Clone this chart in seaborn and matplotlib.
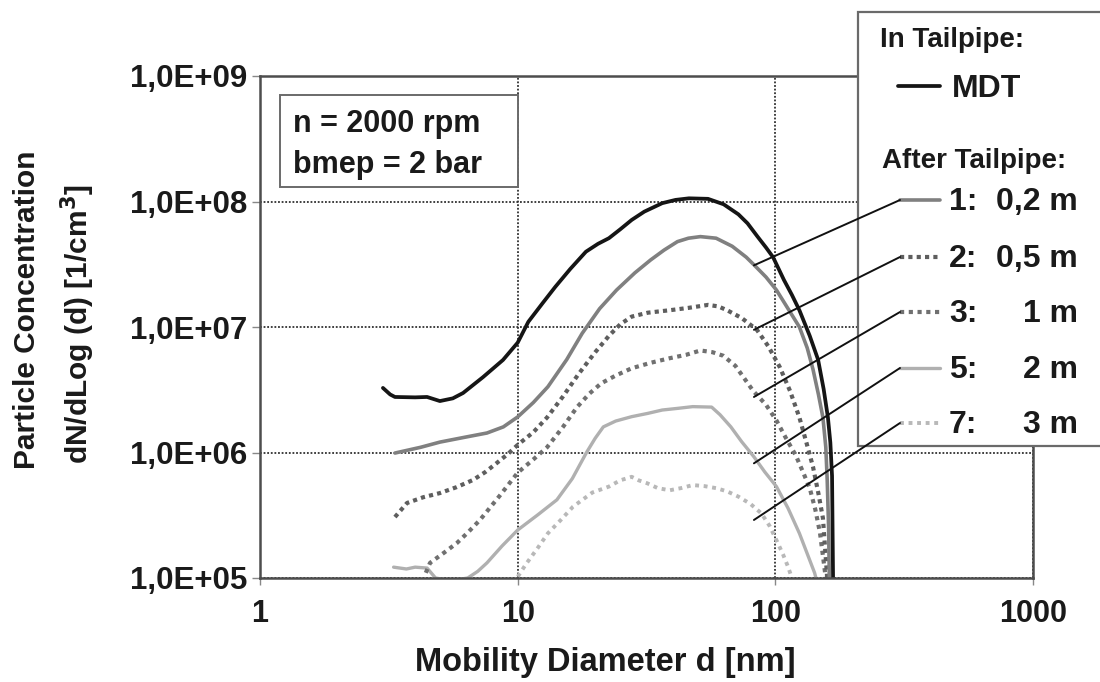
import matplotlib
matplotlib.use("Agg")
import matplotlib.pyplot as plt
import matplotlib.ticker as mticker
from matplotlib.lines import Line2D
from matplotlib.patches import Rectangle, ConnectionPatch
import seaborn as sns

# ── Data ──────────────────────────────────────────────────────────────────────
MDT_X = [3.0, 3.2, 3.34, 4.0, 4.45, 4.99, 5.6, 6.14, 7.33, 8.77, 10.0, 11.0,
         12.5, 14.0, 16.0, 18.4, 20.5, 22.6, 25.0, 27.7, 31.0, 36.4, 41.0,
         46.2, 54.8, 63, 71.9, 78, 85.3, 92, 98, 108, 116, 124, 136, 146.5,
         154, 160, 163.5, 166, 167.5]
MDT_Y = [3.27e6, 2.9e6, 2.77e6, 2.75e6, 2.77e6, 2.57e6, 2.7e6, 2.98e6, 3.98e6,
         5.46e6, 7.5e6, 1.1e7, 1.55e7, 2.09e7, 2.9e7, 3.98e7, 4.6e7, 5.1e7,
         6.0e7, 7.13e7, 8.3e7, 9.7e7, 1.03e8, 1.06e8, 1.05e8, 9.5e7, 7.9e7,
         6.7e7, 5.25e7, 4.3e7, 3.6e7, 2.37e7, 1.8e7, 1.36e7, 8.5e6, 5.5e6,
         3.2e6, 1.9e6, 1.2e6, 6.5e5, 1e5]

D1_X = [3.34, 4.2, 4.99, 6.2, 7.6, 8.8, 10, 11.5, 13.1, 15.5, 17.8, 20.8, 24.2,
        28.5, 32.8, 37, 41.7, 46, 51.2, 58.9, 68, 77.1, 83, 92, 101, 112, 124,
        133, 140, 147, 153, 157, 159, 161, 162]
D1_Y = [9.9e5, 1.1e6, 1.21e6, 1.32e6, 1.43e6, 1.6e6, 1.92e6, 2.5e6, 3.34e6,
        5.5e6, 8.9e6, 1.4e7, 1.97e7, 2.7e7, 3.42e7, 4.1e7, 4.79e7, 5.1e7,
        5.25e7, 5.1e7, 4.4e7, 3.6e7, 3.1e7, 2.5e7, 1.97e7, 1.4e7, 1.0e7,
        6.8e6, 4.6e6, 2.9e6, 1.9e6, 1.1e6, 6e5, 2.5e5, 1e5]

D2_X = [3.34, 3.72, 4.3, 4.99, 5.8, 6.71, 7.5, 8.3, 9.2, 10, 11.5, 13, 15,
        17.2, 20, 22.6, 25, 27.7, 32, 38.9, 46, 54.8, 60, 65, 74, 84.8, 94,
        104, 114, 124, 132, 140, 147, 153, 158, 160]
D2_Y = [3.06e5, 3.96e5, 4.4e5, 4.75e5, 5.3e5, 6.04e5, 7.0e5, 8.25e5, 9.8e5,
        1.15e6, 1.45e6, 1.9e6, 2.8e6, 4.2e6, 6.3e6, 8.5e6, 1.05e7, 1.21e7,
        1.3e7, 1.36e7, 1.42e7, 1.5e7, 1.46e7, 1.36e7, 1.18e7, 9.5e6, 7.0e6,
        4.8e6, 3.1e6, 1.9e6, 1.2e6, 7.7e5, 4.7e5, 3.0e5, 1.2e5, 8e4]

D3_X = [4.4, 4.57, 5.2, 5.81, 6.4, 7.14, 8.5, 10, 11.5, 13, 15, 17, 19, 21.1,
        24, 27.7, 33, 38.9, 45, 51.2, 57, 62.8, 70, 82, 92, 101, 110, 120, 128,
        136, 143, 149, 156, 158]
D3_Y = [1.1e5, 1.32e5, 1.6e5, 1.9e5, 2.3e5, 2.9e5, 4.5e5, 6.9e5, 8.8e5,
        1.1e6, 1.6e6, 2.3e6, 2.95e6, 3.56e6, 4.1e6, 4.69e6, 5.2e6, 5.64e6,
        6.0e6, 6.5e6, 6.3e6, 5.9e6, 4.9e6, 3.1e6, 2.4e6, 1.8e6, 1.3e6, 9.5e5,
        7.0e5, 5.2e5, 3.5e5, 2.3e5, 1.1e5, 8e4]

D5_X = [3.3, 3.7, 4.0, 4.45, 4.8, 5.5, 6.4, 7.0, 7.6, 8.7, 10, 12, 14.2, 16.3,
        18.5, 20, 21.5, 24, 27.7, 32, 36.4, 42, 47.8, 56.6, 61, 67.2, 74, 82.4,
        91, 101, 112, 124, 134, 142, 148]
D5_Y = [1.22e5, 1.18e5, 1.22e5, 1.2e5, 1.0e5, 9.5e4, 1.0e5, 1.13e5, 1.32e5,
        1.8e5, 2.41e5, 3.2e5, 4.2e5, 6.2e5, 1.0e6, 1.3e6, 1.6e6, 1.78e6,
        1.93e6, 2.05e6, 2.18e6, 2.25e6, 2.32e6, 2.3e6, 2.0e6, 1.6e6, 1.22e6,
        9.3e5, 7.0e5, 5.35e5, 3.6e5, 2.27e5, 1.5e5, 1.1e5, 8e4]

D7_X = [9.6, 10.8, 12, 13.1, 14.7, 16.4, 19.5, 22.6, 25, 27.7, 29.5, 31.8,
        35, 38.9, 43, 47.8, 53, 58.9, 65, 71.9, 80, 88.3, 95, 101, 107, 112, 118]
D7_Y = [9e4, 1.3e5, 1.75e5, 2.27e5, 2.9e5, 3.7e5, 4.8e5, 5.35e5, 6.0e5, 6.4e5,
        6.0e5, 5.69e5, 5.2e5, 5.0e5, 5.2e5, 5.5e5, 5.4e5, 5.2e5, 4.9e5,
        4.45e5, 3.9e5, 3.27e5, 2.6e5, 2.0e5, 1.55e5, 1.23e5, 9e4]

AFTER_LABELS = ["1:", "2:", "3:", "5:", "7:"]
AFTER_VALUES = ["0,2 m", "0,5 m", "1 m", "2 m", "3 m"]
X_TICKS = [1, 10, 100, 1000]
Y_TICKS = [1e5, 1e6, 1e7, 1e8, 1e9]

# where the leader lines touch the curves
LEADER_X = 82.6
LEADER_Y = [3.1e7, 9.5e6, 2.77e6, 8.2e5, 2.9e5]

# ── Style ─────────────────────────────────────────────────────────────────────
sns.set_style("white")
plt.rcParams["font.family"] = ["Liberation Sans", "DejaVu Sans"]
plt.rcParams["font.weight"] = "bold"
TXT = "#1a1a1a"

W, H = 1100, 682
MDT_STYLE = dict(color="#151515", lw=2.7, ls="-")
AFTER_STYLES = [
    dict(color="#808080", lw=2.6, ls="-"),
    dict(color="#5e5e5e", lw=3.0, ls=(0, (1.0, 1.0))),
    dict(color="#707070", lw=3.0, ls=(0, (1.0, 1.1))),
    dict(color="#b0b0b0", lw=2.4, ls="-"),
    dict(color="#b8b8b8", lw=2.8, ls=(0, (1.0, 1.2))),
]


def fx(px):
    return px / W


def fy(py):
    return 1 - py / H


fig = plt.figure(figsize=(W / 100, H / 100), dpi=100)
ax = fig.add_axes([fx(260), fy(578), fx(1033) - fx(260), fy(76) - fy(578)])
ax.set_xscale("log")
ax.set_yscale("log")

series = [(MDT_X, MDT_Y, MDT_STYLE),
          (D1_X, D1_Y, AFTER_STYLES[0]),
          (D2_X, D2_Y, AFTER_STYLES[1]),
          (D3_X, D3_Y, AFTER_STYLES[2]),
          (D5_X, D5_Y, AFTER_STYLES[3]),
          (D7_X, D7_Y, AFTER_STYLES[4])]
for xs, ys, st in reversed(series):
    sns.lineplot(x=xs, y=ys, ax=ax, errorbar=None, color=st["color"],
                 linewidth=st["lw"], linestyle=st["ls"], zorder=3)

ax.set_xlim(1, 1000)
ax.set_ylim(1e5, 1e9)
ax.xaxis.set_major_locator(mticker.FixedLocator(X_TICKS))
ax.yaxis.set_major_locator(mticker.FixedLocator(Y_TICKS))
ax.xaxis.set_minor_locator(mticker.NullLocator())
ax.yaxis.set_minor_locator(mticker.NullLocator())
ax.xaxis.set_major_formatter(mticker.FuncFormatter(lambda v, _: f"{v:g}"))
ax.yaxis.set_major_formatter(
    mticker.FuncFormatter(lambda v, _: f"{v:.1E}".replace(".", ",")))
ax.tick_params(axis="y", labelsize=22.5, length=6, width=1, color="#888888",
               pad=3, left=True)
ax.tick_params(axis="x", labelsize=22, length=5, width=1, color="#888888",
               pad=10, bottom=True)
for lab in ax.get_xticklabels() + ax.get_yticklabels():
    lab.set_fontweight("bold")
    lab.set_color(TXT)

ax.grid(True, which="major", ls=(0, (1, 1)), color="#303030", lw=1.3, zorder=1)
for sp in ax.spines.values():
    sp.set_color("#4d4d4d")
    sp.set_linewidth(1.8)
    sp.set_zorder(4)

# axis labels
fig.text(fx(605), fy(663), "Mobility Diameter d [nm]", ha="center",
         va="center", fontsize=23.5, fontweight="bold", color=TXT)
fig.text(fx(27), fy(310), "Particle Concentration", rotation=90, ha="center",
         va="center", fontsize=21.5, fontweight="bold", color=TXT)
fig.text(fx(78), fy(324), "dN/dLog (d) [1/cm$^\\mathbf{3}$]", rotation=90,
         ha="center", va="center", fontsize=21.5, fontweight="bold", color=TXT)

# operating point box
fig.add_artist(Rectangle((fx(280), fy(187)), fx(518) - fx(280),
                         fy(95) - fy(187), transform=fig.transFigure,
                         facecolor="white", edgecolor="#6a6a6a", lw=1.4,
                         zorder=5))
fig.text(fx(293), fy(132), "n = 2000 rpm", ha="left", va="baseline",
         fontsize=22, fontweight="bold", color=TXT, zorder=6)
fig.text(fx(293), fy(173), "bmep = 2 bar", ha="left", va="baseline",
         fontsize=22, fontweight="bold", color=TXT, zorder=6)

# legend box (runs off the right edge)
fig.add_artist(Rectangle((fx(858), fy(446)), fx(1110) - fx(858),
                         fy(12) - fy(446), transform=fig.transFigure,
                         facecolor="white", edgecolor="#6a6a6a", lw=1.6,
                         zorder=5, clip_on=False))
fig.text(fx(880), fy(47), "In Tailpipe:", ha="left", va="baseline",
         fontsize=20, fontweight="bold", color=TXT, zorder=6)
fig.add_artist(Line2D([fx(898), fx(940)], [fy(86), fy(86)],
                      transform=fig.transFigure, color=MDT_STYLE["color"],
                      lw=MDT_STYLE["lw"], ls=MDT_STYLE["ls"], zorder=6))
fig.text(fx(952), fy(97), "MDT", ha="left", va="baseline", fontsize=23,
         fontweight="bold", color=TXT, zorder=6)
fig.text(fx(882), fy(168), "After Tailpipe:", ha="left", va="baseline",
         fontsize=20, fontweight="bold", color=TXT, zorder=6)

row_y = [200, 257, 312, 368, 423]
for i, (lab, val, st) in enumerate(zip(AFTER_LABELS, AFTER_VALUES, AFTER_STYLES)):
    yc = row_y[i]
    fig.add_artist(Line2D([fx(900), fx(940)], [fy(yc), fy(yc)],
                          transform=fig.transFigure, color=st["color"],
                          lw=st["lw"], ls=st["ls"], zorder=6))
    fig.text(fx(949), fy(yc + 10), lab, ha="left", va="baseline", fontsize=23,
             fontweight="bold", color=TXT, zorder=6)
    fig.text(fx(1078), fy(yc + 10), val, ha="right", va="baseline",
             fontsize=23, fontweight="bold", color=TXT, zorder=6)
    # leader line from the curve to the legend entry, drawn above the box
    con = ConnectionPatch(xyA=(LEADER_X, LEADER_Y[i]), coordsA=ax.transData,
                          xyB=(fx(900), fy(yc)), coordsB=fig.transFigure,
                          color="#111111", lw=1.4, zorder=7)
    fig.add_artist(con)

fig.savefig("out.png", dpi=100)
